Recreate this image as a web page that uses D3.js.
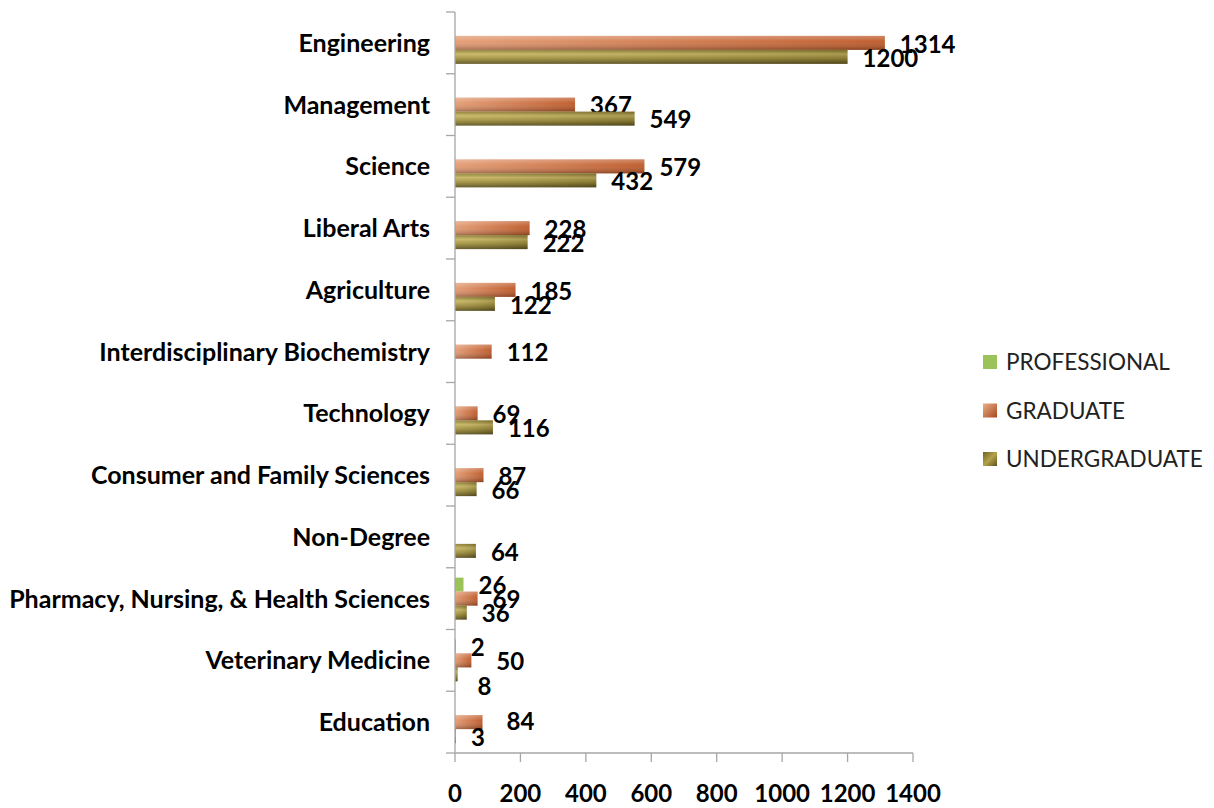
<!DOCTYPE html>
<html><head><meta charset="utf-8">
<script src="https://cdn.jsdelivr.net/npm/d3@7/dist/d3.min.js"></script>
<style>body{margin:0;background:#fff}svg{display:block}</style>
</head><body><svg id="c" width="1214" height="808"></svg>
<script>
const categories = ["Engineering","Management","Science","Liberal Arts","Agriculture","Interdisciplinary Biochemistry","Technology","Consumer and Family Sciences","Non-Degree","Pharmacy, Nursing, & Health Sciences","Veterinary Medicine","Education"];
const seriesNames = ["PROFESSIONAL","GRADUATE","UNDERGRADUATE"];
const professional = [null,null,null,null,null,null,null,null,null,26,2,null];
const graduate = [1314,367,579,228,185,112,69,87,null,69,50,84];
const undergraduate = [1200,549,432,222,122,null,116,66,64,36,8,3];
const xTicks = [0,200,400,600,800,1000,1200,1400];

(function(){
// manual label nudges (as in the original chart), [dx, dy] in px
const labelNudge = {
  "Veterinary Medicine|GRADUATE":[10,0],
  "Veterinary Medicine|UNDERGRADUATE":[5,11],
  "Education|GRADUATE":[9,-2]
};
const svg = d3.select("#c");
const L = 455, R = 913, T = 12, B = 753;
const x = d3.scaleLinear().domain([0,1400]).range([L,R]);
const y = d3.scaleBand().domain(categories).range([T,B]).paddingInner(0.32).paddingOuter(0.16);
const ySub = d3.scaleBand().domain(seriesNames).range([0,y.bandwidth()]);

const defs = svg.append("defs");
const gGrad = defs.append("linearGradient").attr("id","gradG").attr("x1",0).attr("y1",0).attr("x2",1).attr("y2",0);
gGrad.append("stop").attr("offset","0%").attr("stop-color","#e39b72");
gGrad.append("stop").attr("offset","100%").attr("stop-color","#bd5726");
const gOv = defs.append("linearGradient").attr("id","ovG").attr("x1",0).attr("y1",0).attr("x2",0).attr("y2",1);
gOv.append("stop").attr("offset","0%").attr("stop-color","#fff").attr("stop-opacity",0.3);
gOv.append("stop").attr("offset","40%").attr("stop-color","#fff").attr("stop-opacity",0.05);
gOv.append("stop").attr("offset","100%").attr("stop-color","#000").attr("stop-opacity",0.28);
const uGrad = defs.append("linearGradient").attr("id","gradU").attr("x1",0).attr("y1",0).attr("x2",0).attr("y2",1);
uGrad.append("stop").attr("offset","0%").attr("stop-color","#8a7a30");
uGrad.append("stop").attr("offset","30%").attr("stop-color","#c8b660");
uGrad.append("stop").attr("offset","65%").attr("stop-color","#9a8a38");
uGrad.append("stop").attr("offset","100%").attr("stop-color","#5a501e");
const uOv = defs.append("linearGradient").attr("id","ovU").attr("x1",0).attr("y1",0).attr("x2",1).attr("y2",0);
uOv.append("stop").attr("offset","0%").attr("stop-color","#fff").attr("stop-opacity",0.08);
uOv.append("stop").attr("offset","100%").attr("stop-color","#000").attr("stop-opacity",0.15);

const series = [
  {name:"PROFESSIONAL", values:professional, fill:"#9bc35a", ov:null},
  {name:"GRADUATE", values:graduate, fill:"url(#gradG)", ov:"url(#ovG)"},
  {name:"UNDERGRADUATE", values:undergraduate, fill:"url(#gradU)", ov:"url(#ovU)"}
];

const font = "Lato, 'Open Sans', sans-serif";
const plot = svg.append("g");
const nudge = (e,s,k)=>{const n=labelNudge[e.c+"|"+s.name]; return n?n[k]:0;};
series.forEach(s=>{
  const d = categories.map((c,i)=>({c, v:s.values[i]})).filter(e=>e.v!=null);
  const g = plot.append("g");
  g.selectAll("rect.b").data(d).join("rect").attr("class","b")
    .attr("x",x(0)).attr("y",e=>y(e.c)+ySub(s.name))
    .attr("width",e=>Math.max(1,x(e.v)-x(0))).attr("height",ySub.bandwidth())
    .attr("fill",s.fill);
  if(s.ov) g.selectAll("rect.o").data(d).join("rect").attr("class","o")
    .attr("x",x(0)).attr("y",e=>y(e.c)+ySub(s.name))
    .attr("width",e=>Math.max(1,x(e.v)-x(0))).attr("height",ySub.bandwidth())
    .attr("fill",s.ov);
  g.selectAll("text").data(d).join("text")
    .attr("x",e=>x(e.v)+15+nudge(e,s,0)).attr("y",e=>y(e.c)+ySub(s.name)+ySub.bandwidth()/2+1+nudge(e,s,1))
    .attr("dy","0.36em").attr("font-family",font).attr("font-weight","bold")
    .attr("font-size",24).attr("fill","#000").text(e=>e.v);
});

// y axis
const ya = svg.append("g").attr("transform",`translate(${L},0)`);
ya.append("line").attr("x1",0).attr("x2",0).attr("y1",T).attr("y2",B).attr("stroke","#a6a6a6").attr("stroke-width",1.3);
const bounds = d3.range(categories.length+1).map(i=>T + i*y.step());
ya.selectAll("line.t").data(bounds).join("line").attr("class","t")
  .attr("x1",-9).attr("x2",0).attr("y1",d=>d).attr("y2",d=>d).attr("stroke","#a6a6a6").attr("stroke-width",1.3);
ya.selectAll("text").data(categories).join("text")
  .attr("x",-25).attr("y",d=>y(d)+y.bandwidth()/2).attr("dy","0.36em")
  .attr("text-anchor","end").attr("font-family",font).attr("font-weight","bold")
  .attr("font-size",25).attr("fill","#000").text(d=>d);

// x axis
const xa = svg.append("g").attr("transform",`translate(0,${B})`);
xa.append("line").attr("x1",L).attr("x2",R).attr("stroke","#a6a6a6").attr("stroke-width",1.3);
xa.selectAll("line.t").data(xTicks).join("line").attr("class","t")
  .attr("x1",d=>x(d)).attr("x2",d=>x(d)).attr("y1",0).attr("y2",9).attr("stroke","#a6a6a6").attr("stroke-width",1.3);
xa.selectAll("text").data(xTicks).join("text")
  .attr("x",d=>x(d)).attr("y",49).attr("text-anchor","middle")
  .attr("font-family",font).attr("font-weight","bold").attr("font-size",24).text(d=>d);

// legend
const lg = svg.append("g").attr("transform","translate(983,362)");
const legFill = ["#9bc35a","url(#gradLegG)","url(#gradLegU)"];
const lgG = defs.append("linearGradient").attr("id","gradLegG").attr("x1",0).attr("y1",0).attr("x2",1).attr("y2",1);
lgG.append("stop").attr("offset","0%").attr("stop-color","#eab08c");
lgG.append("stop").attr("offset","100%").attr("stop-color","#a8481c");
const lgU = defs.append("linearGradient").attr("id","gradLegU").attr("x1",0).attr("y1",0).attr("x2",1).attr("y2",1);
lgU.append("stop").attr("offset","0%").attr("stop-color","#6e6226");
lgU.append("stop").attr("offset","50%").attr("stop-color","#b3a24a");
lgU.append("stop").attr("offset","100%").attr("stop-color","#5e5420");
seriesNames.forEach((n,i)=>{
  const r = lg.append("g").attr("transform",`translate(0,${i*48.5})`);
  r.append("rect").attr("x",0).attr("y",-7).attr("width",14).attr("height",14).attr("fill",legFill[i]);
  r.append("text").attr("x",23).attr("y",0).attr("dy","0.36em").attr("font-family",font)
    .attr("font-size",22.5).attr("fill","#222").text(n);
});
})();
</script></body></html>
